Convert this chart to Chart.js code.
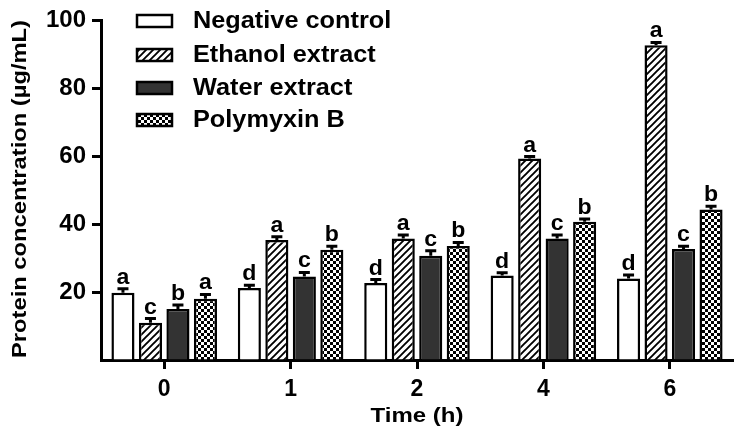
<!DOCTYPE html>
<html>
<head>
<meta charset="utf-8">
<script src="https://cdn.jsdelivr.net/npm/chart.js@4.4.0/dist/chart.umd.min.js"></script>
<style>
  html, body { margin: 0; padding: 0; background: #fff; }
  #wrap { width: 738px; height: 435px; }
</style>
</head>
<body>
<div id="wrap"><canvas id="proteinChart"></canvas></div>
<script>
// time points and group values
const times = ['0', '1', '2', '4', '6'];

const negative = [19.8, 21.2, 22.7, 24.9, 24.0];
const ethanol  = [11.0, 35.3, 35.8, 59.3, 92.7];
const water    = [15.0, 24.6, 30.7, 35.8, 32.7];
const polymyxin = [18.0, 32.5, 33.6, 40.7, 44.3];

// upper error (SD) for each bar
const negativeErr = [1.2, 0.8, 1.0, 0.8, 1.0];
const ethanolErr  = [1.2, 1.0, 1.0, 0.6, 0.8];
const waterErr    = [1.2, 1.2, 1.5, 1.0, 0.8];
const polymyxinErr = [1.3, 1.0, 1.0, 0.8, 1.0];

// significance letters
const negativeSig = ['a', 'd', 'd', 'd', 'd'];
const ethanolSig  = ['c', 'a', 'a', 'a', 'a'];
const waterSig    = ['b', 'c', 'c', 'c', 'c'];
const polymyxinSig = ['a', 'b', 'b', 'b', 'b'];

const xTitle = 'Time (h)';
const yTitle = 'Protein concentration (µg/mL)';

const FONT = "'Liberation Sans', Arial, Helvetica, sans-serif";

// --- fill patterns ---
function hatchPattern() {
    const c = document.createElement('canvas');
    c.width = 7; c.height = 7;
    const g = c.getContext('2d');
    g.fillStyle = '#fff';
    g.fillRect(0, 0, 7, 7);
    g.strokeStyle = '#000';
    g.lineWidth = 1.9;
    g.beginPath();
    g.moveTo(-1, 8); g.lineTo(8, -1);
    g.moveTo(-2, 2); g.lineTo(2, -2);
    g.moveTo(5, 9); g.lineTo(9, 5);
    g.stroke();
    return g.createPattern(c, 'repeat');
}

function checkerPattern() {
    const c = document.createElement('canvas');
    c.width = 6; c.height = 6;
    const g = c.getContext('2d');
    g.fillStyle = '#fff';
    g.fillRect(0, 0, 6, 6);
    g.fillStyle = '#000';
    g.fillRect(0, 0, 3, 3);
    g.fillRect(3, 3, 3, 3);
    return g.createPattern(c, 'repeat');
}

// the figure's lettering is a bit wider than Arial, so stretch it
function wideText(ctx, text, x, y, size, sx, align) {
    ctx.save();
    ctx.translate(x, y);
    ctx.scale(sx, 1);
    ctx.font = 'bold ' + size + 'px ' + FONT;
    ctx.textAlign = align;
    ctx.fillText(text, 0, 0);
    ctx.restore();
}

const errors = [negativeErr, ethanolErr, waterErr, polymyxinErr];
const letters = [negativeSig, ethanolSig, waterSig, polymyxinSig];

// error bars + letters on top of each bar
const barExtras = {
    id: 'barExtras',
    afterDatasetsDraw(chart) {
        const ctx = chart.ctx;
        const y = chart.scales.y;
        ctx.save();
        chart.data.datasets.forEach((ds, i) => {
            const meta = chart.getDatasetMeta(i);
            meta.data.forEach((bar, j) => {
                const yTop = y.getPixelForValue(ds.data[j] + errors[i][j]);
                ctx.strokeStyle = '#000';
                ctx.lineWidth = 3;
                ctx.beginPath();
                ctx.moveTo(bar.x, bar.y);
                ctx.lineTo(bar.x, yTop);
                ctx.moveTo(bar.x - 5.5, yTop);
                ctx.lineTo(bar.x + 5.5, yTop);
                ctx.stroke();

                ctx.fillStyle = '#000';
                ctx.textBaseline = 'alphabetic';
                wideText(ctx, letters[i][j], bar.x, yTop - 5, 22, 1.05, 'center');
            });
        });
        ctx.restore();
    }
};

// legend stacked in the top-left of the plot, plus the axis titles
const boxLegend = {
    id: 'boxLegend',
    afterDraw(chart) {
        const ctx = chart.ctx;
        const area = chart.chartArea;
        const rows = [21, 55, 88, 120];
        ctx.save();
        chart.data.datasets.forEach((ds, i) => {
            const cy = rows[i];
            ctx.fillStyle = ds.backgroundColor;
            ctx.fillRect(137, cy - 6, 35, 12);
            ctx.strokeStyle = '#000';
            ctx.lineWidth = 2.5;
            ctx.strokeRect(137, cy - 6, 35, 12);
            ctx.fillStyle = '#000';
            ctx.textBaseline = 'middle';
            wideText(ctx, ds.label, 193, cy + 1, 23, 1.1, 'left');
        });

        ctx.fillStyle = '#000';
        ctx.textBaseline = 'alphabetic';
        wideText(ctx, xTitle, (area.left + area.right) / 2, 422, 20, 1.2, 'center');

        ctx.save();
        ctx.translate(26, 189);
        ctx.rotate(-Math.PI / 2);
        wideText(ctx, yTitle, 0, 0, 21, 1.13, 'center');
        ctx.restore();

        ctx.restore();
    }
};

function makeSet(label, data, fill) {
    return {
        label: label,
        data: data,
        backgroundColor: fill,
        borderColor: '#000',
        borderWidth: 2.5,
        borderSkipped: 'bottom',
        categoryPercentage: 0.87,
        barPercentage: 0.84
    };
}

function drawChart() {
    const ctx = document.getElementById('proteinChart').getContext('2d');

    new Chart(ctx, {
        type: 'bar',
        data: {
            labels: times,
            datasets: [
                makeSet('Negative control', negative, '#ffffff'),
                makeSet('Ethanol extract', ethanol, hatchPattern()),
                makeSet('Water extract', water, '#333333'),
                makeSet('Polymyxin B', polymyxin, checkerPattern())
            ]
        },
        options: {
            responsive: true,
            maintainAspectRatio: false,
            animation: false,
            layout: { padding: { top: 19, right: 5, left: 0, bottom: 0 } },
            plugins: {
                legend: { display: false },
                tooltip: { enabled: false }
            },
            scales: {
                x: {
                    grid: {
                        display: true, drawOnChartArea: false, offset: false,
                        tickLength: 9, tickWidth: 3, color: '#000'
                    },
                    border: { display: true, width: 3, color: '#000' },
                    ticks: { color: '#000', padding: 7, font: { family: FONT, size: 23, weight: 'bold' } },
                    afterFit: s => { s.height = 75; }
                },
                y: {
                    min: 0,
                    max: 100,
                    grid: {
                        display: true, drawOnChartArea: false,
                        tickLength: 9, tickWidth: 3,
                        color: c => (c.tick && c.tick.value === 0) ? 'rgba(0,0,0,0)' : '#000'
                    },
                    border: { display: true, width: 3, color: '#000' },
                    ticks: {
                        stepSize: 20, color: '#000', padding: 6,
                        font: { family: FONT, size: 24, weight: 'bold' },
                        callback: v => v === 0 ? '' : v
                    },
                    afterFit: s => { s.width = 101; }
                }
            }
        },
        plugins: [barExtras, boxLegend]
    });
}

drawChart();
</script>
</body>
</html>
